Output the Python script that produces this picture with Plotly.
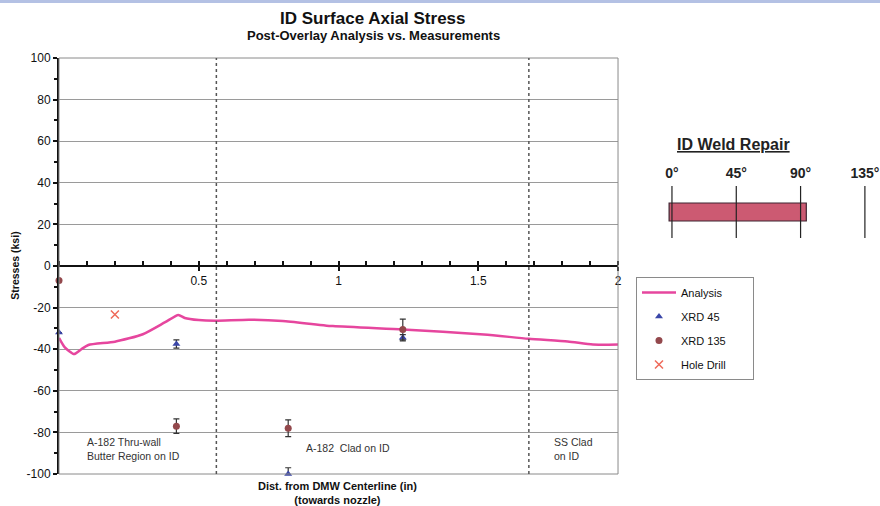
import plotly.graph_objects as go

# ---------------- data ----------------
analysis_x = [0, 0.02, 0.054, 0.08, 0.105, 0.2, 0.3, 0.38, 0.427, 0.45, 0.5, 0.56,
              0.68, 0.8, 0.98, 1.23, 1.52, 1.68, 1.82, 1.91, 2.0]
analysis_y = [-34.6, -39, -42.3, -40, -38, -36.4, -32.8, -27, -23.5, -25, -26, -26.3,
              -25.8, -26.4, -28.9, -30.5, -32.9, -35, -36.3, -37.7, -37.8]

xrd45_x = [0, 0.42, 0.82, 1.23]
xrd45_y = [-32, -37.5, -100, -34.5]
xrd45_err = [0, 2, 3, 1.5]

xrd135_x = [0, 0.42, 0.82, 1.23]
xrd135_y = [-7, -77, -78, -30.5]
xrd135_err = [0, 3.5, 4, 5]

hole_x = [0.2]
hole_y = [-23.3]

region_bounds = [0.563, 1.681]
region_labels = ["A-182 Thru-wall<br>Butter Region on ID", "A-182  Clad on ID", "SS Clad<br>on ID"]
region_label_x = [0.093, 0.875, 1.763]
region_label_y = [-88.2, -87.5, -88.0]

x_tickvals = [0.5, 1, 1.5, 2]
x_ticktext = ["0.5", "1", "1.5", "2"]
y_tickvals = [100, 80, 60, 40, 20, 0, -20, -40, -60, -80, -100]
y_ticktext = ["100", "80", "60", "40", "20", "0", "-20", "-40", "-60", "-80", "-100"]

weld_angles = [0, 45, 90, 135]
weld_angle_text = ["0°", "45°", "90°", "135°"]
weld_repair = [0, 90]

FONT = "Liberation Sans, Arial, sans-serif"
NB = "\u00a0"

fig = go.Figure()

fig.add_trace(go.Scatter(
    x=analysis_x, y=analysis_y, mode="lines", name="Analysis",
    line=dict(color="#e6469e", width=2.5, shape="spline", smoothing=0.6),
    legendgroup="a"))

fig.add_trace(go.Scatter(
    x=xrd45_x, y=xrd45_y, mode="markers", name="XRD 45",
    marker=dict(symbol="triangle-up", size=7, color="#3a46a8"),
    error_y=dict(type="data", array=xrd45_err, color="#333333", thickness=1.2, width=3),
    cliponaxis=False, legendgroup="b"))

fig.add_trace(go.Scatter(
    x=xrd135_x, y=xrd135_y, mode="markers", name="XRD 135",
    marker=dict(symbol="circle", size=7, color="#93484c"),
    error_y=dict(type="data", array=xrd135_err, color="#333333", thickness=1.2, width=3),
    cliponaxis=False, legendgroup="c"))

fig.add_trace(go.Scatter(
    x=hole_x, y=hole_y, mode="markers", name="Hole Drill" + NB * 7,
    marker=dict(symbol="x-thin", size=8, color="#ef6a5a", line=dict(width=1.5, color="#ef6a5a")),
    legendgroup="d"))

# ID weld repair mini-diagram on its own axes
vx, vy = [], []
for a in weld_angles:
    vx += [a, a, None]
    vy += [0, 1, None]
fig.add_trace(go.Scatter(x=vx, y=vy, mode="lines", xaxis="x2", yaxis="y2",
                         line=dict(color="#222222", width=1.2), showlegend=False,
                         hoverinfo="skip"))

shapes = []
shapes.append(dict(type="rect", xref="x domain", yref="y domain", x0=0, x1=1, y0=0, y1=1,
                   line=dict(color="#8a8a8a", width=1)))
for b in region_bounds:
    shapes.append(dict(type="line", xref="x", yref="y domain", x0=b, x1=b, y0=0, y1=1,
                       line=dict(color="#555555", width=1.5, dash="dot")))
shapes.append(dict(type="rect", xref="x2", yref="y2", x0=weld_repair[0] - 2, x1=weld_repair[1] + 4,
                   y0=0.327, y1=0.673, fillcolor="#cc5a72", line=dict(color="#3d2430", width=1.2),
                   layer="below"))
# slide header strip
shapes.append(dict(type="rect", xref="paper", yref="paper", x0=-0.072, x1=1.0,
                   y0=1.1322, y1=1.1395, fillcolor="#b4c1e4", line=dict(width=0)))

annotations = [
    dict(text="<b>ID Surface Axial Stress</b>", x=0.3825, y=1.096, xref="paper", yref="paper",
         showarrow=False, xanchor="center", yanchor="middle",
         font=dict(size=17, color="#111111", family=FONT)),
    dict(text="<b>Post-Overlay Analysis vs. Measurements</b>", x=0.3825, y=1.055, xref="paper",
         yref="paper", showarrow=False, xanchor="center", yanchor="middle",
         font=dict(size=13, color="#111111", family=FONT)),
    dict(text="<b>Stresses (ksi)</b>", x=-0.054, y=0.5, xref="paper", yref="paper",
         showarrow=False, textangle=-90, xanchor="center", yanchor="middle",
         font=dict(size=10.5, color="#111111", family=FONT)),
    dict(text="<b>Dist. from DMW Centerline (in)<br>(towards nozzle)</b>", x=0.3395, y=-0.046,
         xref="paper", yref="paper", showarrow=False, xanchor="center", yanchor="middle",
         font=dict(size=11, color="#111111", family=FONT)),
    dict(text="<b><u>ID Weld Repair</u></b>", x=0.821, y=0.7909, xref="paper", yref="paper",
         showarrow=False, xanchor="center", yanchor="middle",
         font=dict(size=16, color="#222222", family=FONT)),
]
for t, lx, ly in zip(region_labels, region_label_x, region_label_y):
    annotations.append(dict(text=t, x=lx, y=ly, xref="x", yref="y", showarrow=False,
                            xanchor="left", yanchor="middle", align="left",
                            font=dict(size=10.5, color="#333333", family=FONT)))

fig.update_layout(
    width=880, height=506, autosize=False,
    margin=dict(l=59, r=0, t=58, b=32, autoexpand=False),
    paper_bgcolor="white", plot_bgcolor="white",
    font=dict(family=FONT, size=11, color="#111111"),
    xaxis=dict(domain=[0, 0.6809], range=[0, 2], anchor="free", position=0.5,
               tickvals=x_tickvals, ticktext=x_ticktext, showgrid=False, zeroline=False,
               showline=True, linecolor="#111111", linewidth=2, automargin=False,
               ticks="outside", ticklen=4, tickcolor="#111111", tickwidth=1.5,
               minor=dict(ticks="inside", dtick=0.1, ticklen=4, tickcolor="#111111", tickwidth=1.5),
               tickfont=dict(size=12, color="#111111")),
    yaxis=dict(domain=[0, 1], range=[-100, 100], tickvals=y_tickvals, ticktext=y_ticktext,
               showgrid=True, gridcolor="#9a9a9a", automargin=False,
               gridwidth=1, zeroline=False, showline=True, linecolor="#111111", linewidth=2,
               ticks="outside", ticklen=4, tickcolor="#111111", tickwidth=1.5,
               minor=dict(ticks="outside", dtick=10, ticklen=3, tickcolor="#111111"),
               tickfont=dict(size=12, color="#111111")),
    xaxis2=dict(domain=[0.7292, 0.9903], range=[-10, 140], anchor="y2", side="top",
                tickvals=weld_angles, ticktext=["<b>%s</b>" % s for s in weld_angle_text],
                showgrid=False, zeroline=False, showline=False, ticks="", automargin=False,
                ticklabelstandoff=4, tickfont=dict(size=14, color="#222222")),
    yaxis2=dict(domain=[0.5673, 0.6923], range=[0, 1], anchor="x2", visible=False),
    legend=dict(x=0.7028, y=0.4736, xanchor="left", yanchor="top", bordercolor="#8a8a8a",
                borderwidth=1, bgcolor="white", font=dict(size=11, color="#111111"),
                tracegroupgap=5, traceorder="grouped", itemwidth=34),
    shapes=shapes, annotations=annotations,
    showlegend=True,
)

fig.write_html("out.html",
               config={"displayModeBar": False, "responsive": False},
               post_script="document.body.style.margin='0';document.body.style.overflow='hidden';")
